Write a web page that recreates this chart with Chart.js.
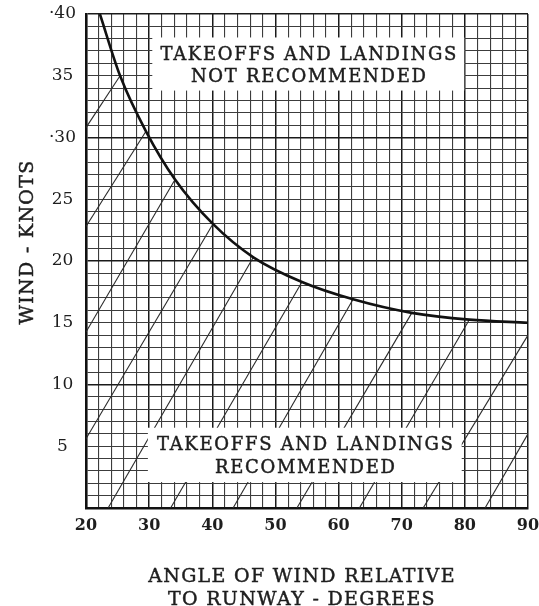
<!DOCTYPE html>
<html>
<head>
<meta charset="utf-8">
<script src="https://cdn.jsdelivr.net/npm/chart.js@4/dist/chart.umd.min.js"></script>
<style>
  html, body { margin: 0; padding: 0; background: #fff; }
  canvas { display: block; }
</style>
</head>
<body>
<canvas id="chart" width="539" height="606"></canvas>
<script>
// Limiting wind speed (knots) by angle between wind and runway (degrees)
const curveAngle = [22.2, 25.4, 29.5, 34.1, 40.1, 46.5, 54.2, 62.3, 71.6, 80.7, 90];
const curveWind  = [40, 35.0, 30.5, 26.6, 23.0, 20.3, 18.3, 16.9, 15.8, 15.25, 15.0];

// Diagonal hatching under the curve: start and end of each stroke
const hatchStartAngle = [20, 20, 20, 20, 23.5, 33.4, 43.3, 53.4, 63.3, 73.4, 83.2];
const hatchStartWind  = [30.8, 22.8, 14.25, 5.6, 0, 0, 0, 0, 0, 0, 0];
const hatchEndAngle   = [25.4, 29.5, 34.1, 40.1, 46.5, 54.2, 62.3, 71.6, 80.7, 90, 90];
const hatchEndWind    = [35.0, 30.5, 26.6, 23.0, 20.3, 18.3, 16.9, 15.8, 15.25, 14.0, 6.0];

// Labelled ticks
const angleTicks = [20, 30, 40, 50, 60, 70, 80, 90];
const windTicks = [5, 10, 15, 20, 25, 30, 35, 40];
const windTickLabels = ['5', '10', '15', '20', '25', '\u00b730', '35', '\u00b740'];

// Region captions and axis titles
const upperCaption = ['TAKEOFFS AND LANDINGS', 'NOT RECOMMENDED'];
const lowerCaption = ['TAKEOFFS AND LANDINGS', 'RECOMMENDED'];
const xTitle = ['ANGLE OF WIND RELATIVE', 'TO RUNWAY - DEGREES'];
const yTitle = 'WIND - KNOTS';

const INK = '#1e1e1e';
const SERIF = '"DejaVu Serif", "Liberation Serif", serif';

// Caption boxes, in axis units; base = baseline offsets from the box top (px)
const captionBoxes = [
  { lines: upperCaption, x0: 30.5, x1: 79.9, y0: 33.8, y1: 38.1, base: [22.5, 44.5] },
  { lines: lowerCaption, x0: 29.8, x1: 79.5, y0: 2.1, y1: 6.5, base: [22.5, 45.5] }
];

const hatchSets = hatchStartAngle.map((a, i) => ({
  data: [
    { x: a, y: hatchStartWind[i] },
    { x: hatchEndAngle[i], y: hatchEndWind[i] }
  ],
  borderColor: '#2a2a2a',
  borderWidth: 1.1,
  pointRadius: 0,
  tension: 0,
  order: 2
}));

const curveSet = {
  data: curveAngle.map((a, i) => ({ x: a, y: curveWind[i] })),
  borderColor: '#111',
  borderWidth: 2.6,
  pointRadius: 0,
  cubicInterpolationMode: 'monotone',
  order: 1
};

// Printed text: fill plus a hairline stroke for a heavier letterpress look
function inkText(ctx, text, x, y) {
  ctx.fillText(text, x, y);
  ctx.strokeText(text, x, y);
}

const overlay = {
  id: 'overlay',
  afterDatasetsDraw(chart) {
    const { ctx, scales: { x, y } } = chart;
    ctx.save();
    captionBoxes.forEach(b => {
      const left = x.getPixelForValue(b.x0), right = x.getPixelForValue(b.x1);
      const top = y.getPixelForValue(b.y1), bottom = y.getPixelForValue(b.y0);
      ctx.fillStyle = '#fff';
      ctx.fillRect(left, top, right - left, bottom - top);
      ctx.fillStyle = INK;
      ctx.strokeStyle = INK;
      ctx.lineWidth = 0.45;
      ctx.font = '18px ' + SERIF;
      ctx.letterSpacing = '1.7px';
      ctx.textAlign = 'center';
      ctx.textBaseline = 'alphabetic';
      const cx = (left + right) / 2 + 1;
      b.lines.forEach((t, i) => inkText(ctx, t, cx, top + b.base[i]));
    });
    ctx.restore();
  },
  afterDraw(chart) {
    const { ctx } = chart;
    ctx.save();
    ctx.fillStyle = INK;
    ctx.strokeStyle = INK;
    ctx.lineWidth = 0.45;
    ctx.font = '19px ' + SERIF;
    ctx.letterSpacing = '1.3px';
    ctx.textAlign = 'center';
    ctx.textBaseline = 'alphabetic';
    inkText(ctx, xTitle[0], 302, 582);
    inkText(ctx, xTitle[1], 302, 605);
    ctx.translate(33, 242);
    ctx.rotate(-Math.PI / 2);
    inkText(ctx, yTitle, 0, 0);
    ctx.restore();
  }
};

const gridColor = ctx => (ctx.tick && ctx.tick.value % 10 === 0) ? '#1a1a1a' : '#3c3c3c';
const gridWidth = ctx => (ctx.tick && ctx.tick.value % 10 === 0) ? 1.5 : 1.1;

new Chart(document.getElementById('chart'), {
  type: 'line',
  data: { datasets: [curveSet, ...hatchSets] },
  options: {
    responsive: false,
    devicePixelRatio: 1,
    animation: false,
    events: [],
    layout: { padding: { top: 14, right: 11, left: 0, bottom: 0 } },
    plugins: { legend: { display: false }, tooltip: { enabled: false } },
    scales: {
      x: {
        type: 'linear',
        min: 20, max: 90,
        afterFit: s => { s.height = 98; s.paddingLeft = 0; s.paddingRight = 0; },
        border: { display: true, width: 2.6, color: '#111' },
        grid: { drawTicks: false, color: gridColor, lineWidth: gridWidth },
        ticks: {
          stepSize: 2,
          autoSkip: false,
          maxRotation: 0,
          padding: 8,
          color: INK,
          font: { family: SERIF, size: 16, weight: 'bold' },
          callback: v => angleTicks.includes(v) ? String(v) : ''
        }
      },
      y: {
        type: 'linear',
        min: 0, max: 40,
        afterFit: s => { s.width = 86; s.paddingTop = 0; s.paddingBottom = 0; },
        border: { display: true, width: 2.6, color: '#111' },
        grid: { drawTicks: false, color: gridColor, lineWidth: gridWidth },
        ticks: {
          stepSize: 1,
          autoSkip: false,
          padding: 10,
          crossAlign: 'center',
          color: INK,
          font: { family: SERIF, size: 17 },
          callback: v => {
            const i = windTicks.indexOf(v);
            return i >= 0 ? windTickLabels[i] : '';
          }
        }
      }
    }
  },
  plugins: [overlay]
});
</script>
</body>
</html>
